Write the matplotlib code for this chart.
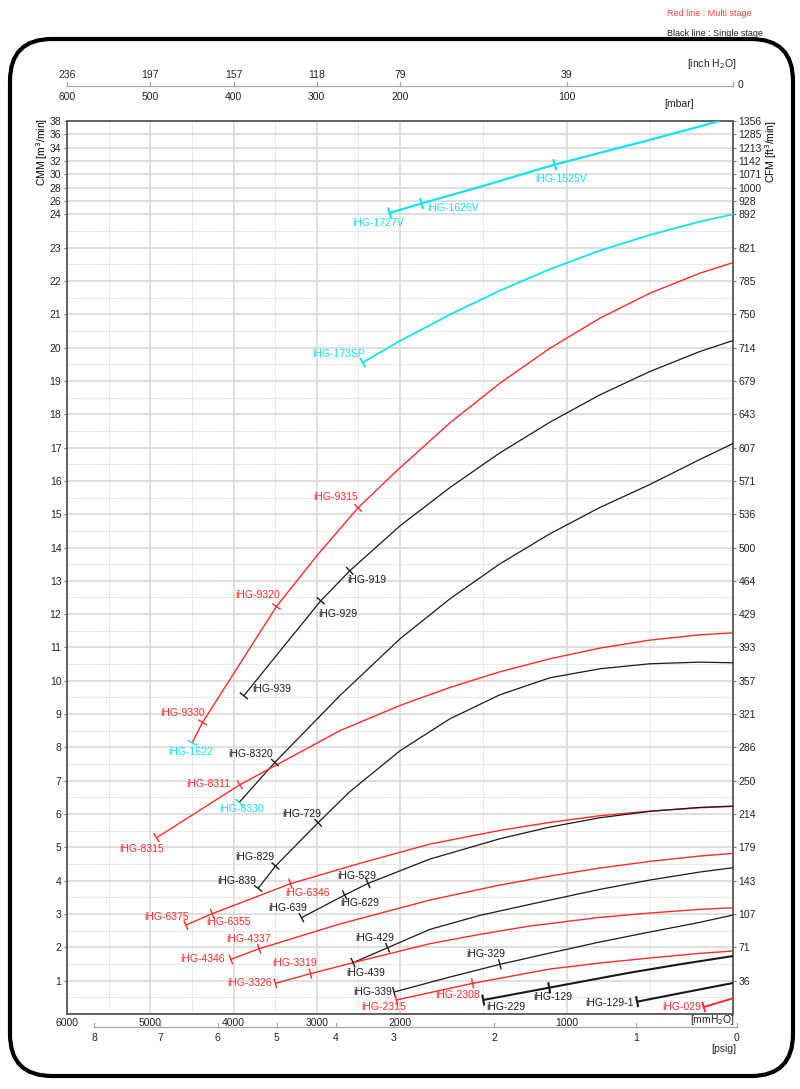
import numpy as np
import matplotlib
matplotlib.use('Agg')
import matplotlib.pyplot as plt
from matplotlib.lines import Line2D
from matplotlib.patches import FancyBboxPatch
from matplotlib.transforms import blended_transform_factory

plt.rcParams['font.family'] = ['Liberation Sans', 'DejaVu Sans']

W, H = 800, 1089
RED = '#ff2b2b'
CYAN = '#14e3ee'
BLK = '#1a1a1a'

# ---- performance curves : x = pressure [mmH2O], y = flow [CMM] ----
v17_mm = [2124, 1870, 1500, 1070, 500, 80]
v17_cmm = [24.2, 25.63, 28.26, 31.46, 35.16, 38.0]

sp_mm = [2448, 2000, 1700, 1400, 1100, 800, 500, 200, 0]
sp_cmm = [19.55, 20.2, 20.99, 21.71, 22.35, 22.91, 23.38, 23.78, 24.0]

m93_mm = [4496, 4372, 3484, 3000, 2504, 2036, 1700, 1400, 1100, 800, 500, 200, 0]
m93_cmm = [8.14, 8.75, 12.23, 13.75, 15.19, 16.31, 17.74, 18.93, 19.98, 20.88, 21.63, 22.23, 22.55]

s9_mm = [3876, 3420, 2952, 2604, 2000, 1700, 1400, 1100, 800, 500, 200, 0]
s9_cmm = [9.55, 10.96, 12.4, 13.3, 14.65, 15.8, 16.84, 17.76, 18.58, 19.28, 19.88, 20.21]

s83_mm = [3932, 3504, 2724, 2000, 1700, 1400, 1100, 800, 500, 200, 0]
s83_cmm = [6.35, 7.55, 9.55, 11.26, 12.46, 13.51, 14.41, 15.2, 15.89, 16.64, 17.12]

m83_mm = [4924, 3924, 3324, 2724, 2000, 1700, 1400, 1100, 800, 500, 200, 0]
m83_cmm = [5.29, 6.88, 7.69, 8.5, 9.26, 9.8, 10.27, 10.66, 10.98, 11.22, 11.38, 11.44]

s7_mm = [3704, 3496, 2984, 2604, 2000, 1700, 1400, 1100, 800, 500, 200, 0]
s7_cmm = [3.77, 4.44, 5.74, 6.67, 7.9, 8.86, 9.58, 10.09, 10.36, 10.51, 10.56, 10.54]

m63_mm = [4572, 4256, 3316, 2484, 1820, 1400, 1100, 800, 500, 200, 0]
m63_cmm = [2.67, 3.01, 3.91, 4.52, 5.1, 5.51, 5.75, 5.95, 6.09, 6.19, 6.23]

s6_mm = [3184, 2664, 2384, 1820, 1400, 1100, 800, 500, 200, 0]
s6_cmm = [2.89, 3.57, 3.92, 4.65, 5.26, 5.61, 5.89, 6.08, 6.2, 6.24]

m43_mm = [4032, 3692, 2724, 1820, 1400, 1100, 800, 500, 200, 0]
m43_cmm = [1.64, 1.96, 2.7, 3.42, 3.87, 4.14, 4.38, 4.58, 4.74, 4.82]

s4_mm = [2564, 2148, 1820, 1520, 1220, 800, 500, 200, 0]
s4_cmm = [1.54, 1.99, 2.54, 2.96, 3.29, 3.74, 4.02, 4.26, 4.39]

m33_mm = [3496, 3076, 2484, 1820, 1520, 1220, 800, 500, 200, 0]
m33_cmm = [0.92, 1.21, 1.59, 2.11, 2.39, 2.64, 2.9, 3.03, 3.14, 3.19]

s3_mm = [2072, 1700, 1400, 1100, 800, 500, 200, 0]
s3_cmm = [0.66, 1.11, 1.49, 1.83, 2.16, 2.46, 2.75, 2.97]

m23_mm = [2044, 1564, 1100, 800, 500, 200, 0]
m23_cmm = [0.42, 0.92, 1.35, 1.53, 1.68, 1.82, 1.89]

s2_mm = [1500, 1104, 620, 320, 0]
s2_cmm = [0.42, 0.79, 1.24, 1.49, 1.74]

s1_mm = [576, 290, 0]
s1_cmm = [0.37, 0.65, 0.93]

m0_mm = [176, 0]
m0_cmm = [0.21, 0.47]

# ---- axis labels ----
cmm_ticks = list(range(1, 25)) + list(range(26, 39, 2))
cfm_labels = ['36', '71', '107', '143', '179', '214', '250', '286', '321', '357', '393', '429',
              '464', '500', '536', '571', '607', '643', '679', '714', '750', '785', '821', '892',
              '928', '1000', '1071', '1142', '1213', '1285', '1356']
mm_ticks = [6000, 5000, 4000, 3000, 2000, 1000]
mbar_labels = ['600', '500', '400', '300', '200', '100']
inch_labels = ['236', '197', '157', '118', '79', '39']
psig_labels = ['8', '7', '6', '5', '4', '3', '2', '1', '0']
psig_pos = [5676, 4878, 4188, 3480, 2772, 2076, 1436, 584, -22]

# curve table: (x, y, colour, width, [(point index, label, mark colour, dx, dy)])
curves = [
    (v17_mm, v17_cmm, CYAN, 1.6, [(0, 'iHG-1727V', CYAN, -12, 10), (1, 'iHG-1626V', CYAN, 31, 5),
                                  (3, 'iHG-1525V', CYAN, 6, 14)]),
    (sp_mm, sp_cmm, CYAN, 1.3, [(0, 'iHG-173SP', CYAN, -24, -9)]),
    (m93_mm, m93_cmm, RED, 1.0, [(0, 'iHG-1622', CYAN, -2, 9), (1, 'iHG-9330', RED, -20, -9),
                                 (2, 'iHG-9320', RED, -19, -11), (4, 'iHG-9315', RED, -22, -11)]),
    (s9_mm, s9_cmm, BLK, 0.9, [(0, 'iHG-939', BLK, 28, -7), (2, 'iHG-929', BLK, 17, 13),
                               (3, 'iHG-919', BLK, 17, 9)]),
    (s83_mm, s83_cmm, BLK, 0.9, [(0, 'iHG-8330', CYAN, 2, 7), (1, 'iHG-8320', BLK, -24, -8)]),
    (m83_mm, m83_cmm, RED, 1.0, [(0, 'iHG-8315', RED, -15, 11), (1, 'iHG-8311', RED, -32, -1)]),
    (s7_mm, s7_cmm, BLK, 0.9, [(0, 'iHG-839', BLK, -21, -7), (1, 'iHG-829', BLK, -21, -9),
                               (2, 'iHG-729', BLK, -16, -9)]),
    (m63_mm, m63_cmm, RED, 1.0, [(0, 'iHG-6375', RED, -19, -8), (1, 'iHG-6355', RED, 16, 8),
                                 (2, 'iHG-6346', RED, 17, 9)]),
    (s6_mm, s6_cmm, BLK, 0.9, [(0, 'iHG-639', BLK, -14, -10), (1, 'iHG-629', BLK, 15, 8),
                               (2, 'iHG-529', BLK, -11, -7)]),
    (m43_mm, m43_cmm, RED, 1.0, [(0, 'iHG-4346', RED, -28, 0), (1, 'iHG-4337', RED, -11, -10)]),
    (s4_mm, s4_cmm, BLK, 0.9, [(0, 'iHG-439', BLK, 13, 10), (1, 'iHG-429', BLK, -13, -10)]),
    (m33_mm, m33_cmm, RED, 1.0, [(0, 'iHG-3326', RED, -26, 0), (1, 'iHG-3319', RED, -16, -11)]),
    (s3_mm, s3_cmm, BLK, 0.9, [(0, 'iHG-339', BLK, -21, 0), (2, 'iHG-329', BLK, -14, -10)]),
    (m23_mm, m23_cmm, RED, 1.0, [(0, 'iHG-2315', RED, -13, 7), (1, 'iHG-2308', RED, -15, 12)]),
    (s2_mm, s2_cmm, BLK, 1.5, [(0, 'iHG-229', BLK, 23, 7), (1, 'iHG-129', BLK, 4, 9)]),
    (s1_mm, s1_cmm, BLK, 1.5, [(0, 'iHG-129-1', BLK, -28, 1)]),
    (m0_mm, m0_cmm, RED, 1.4, [(0, 'iHG-029', RED, -22, 0)]),
]


# piecewise linear scales (2000..0 mmH2O and 24..38 CMM are stretched / squeezed)
def fx(m):
    m = np.asarray(m, float)
    return np.where(m <= 2000, 2 * m, m + 2000)


def fx_inv(u):
    u = np.asarray(u, float)
    return np.where(u <= 4000, u / 2, u - 2000)


def fy(v):
    v = np.asarray(v, float)
    return np.where(v <= 24, v, 24 + (v - 24) * 0.2)


def fy_inv(t):
    t = np.asarray(t, float)
    return np.where(t <= 24, t, 24 + (t - 24) / 0.2)


def figy(py):
    return 1 - py / H


fig = plt.figure(figsize=(W / 100, H / 100), dpi=100)
ax = fig.add_axes([67 / W, 1 - 1014 / H, 666 / W, 893 / H])
ax.set_xscale('function', functions=(fx, fx_inv))
ax.set_yscale('function', functions=(fy, fy_inv))
ax.set_xlim(6000, 0)
ax.set_ylim(0, 38)
ax.autoscale(False)

# grid
for v in range(0, 25):
    ax.axhline(v, color='#d9d9d9', lw=1.2, zorder=0)
for v in np.arange(0.5, 24, 1):
    ax.axhline(v, color='#cfcfcf', lw=0.6, ls=(0, (1, 1)), zorder=0)
for v in range(26, 38, 2):
    ax.axhline(v, color='#d9d9d9', lw=1.2, zorder=0)
for m in range(1000, 6000, 1000):
    ax.axvline(m, color='#d9d9d9', lw=1.2, zorder=0)
for m in range(500, 6000, 1000):
    ax.axvline(m, color='#cfcfcf', lw=0.6, ls=(0, (1, 1)), zorder=0)

for s in ax.spines.values():
    s.set_color('#555555')
    s.set_linewidth(1.3)

ax.set_yticks(cmm_ticks)
ax.set_yticklabels([str(t) for t in cmm_ticks])
ax.set_xticks(mm_ticks)
ax.set_xticklabels([str(t) for t in mm_ticks])
ax.minorticks_off()
ax.tick_params(axis='y', length=2, width=0.8, color='#777777', pad=2, labelsize=7.5, colors='#222222')
ax.tick_params(axis='x', length=0, pad=3, labelsize=7.5, colors='#222222')

ax2 = ax.twinx()
ax2.set_yscale('function', functions=(fy, fy_inv))
ax2.set_ylim(0, 38)
ax2.set_yticks(cmm_ticks)
ax2.set_yticklabels(cfm_labels)
ax2.minorticks_off()
ax2.tick_params(axis='y', length=2, width=0.8, color='#777777', pad=2, labelsize=7.5, colors='#222222')
for s in ax2.spines.values():
    s.set_visible(False)

# curves, marks and labels
for xs, ys, col, lw, marks in curves:
    ax.plot(xs, ys, color=col, lw=lw, zorder=3, solid_capstyle='butt')
    pts = ax.transData.transform(np.column_stack([xs, ys]))
    for i, txt, mcol, dx, dy in marks:
        j0, j1 = max(i - 1, 0), min(i + 1, len(pts) - 1)
        d = pts[j1] - pts[j0]
        d = d / np.hypot(d[0], d[1])
        n = np.array([-d[1], d[0]])
        seg = ax.transData.inverted().transform(np.array([pts[i] - 4.5 * n, pts[i] + 4.5 * n]))
        ax.plot(seg[:, 0], seg[:, 1], color=mcol, lw=max(lw, 1.0), zorder=4)
        ax.annotate(txt, xy=(xs[i], ys[i]), xytext=(dx, -dy), textcoords='offset pixels',
                    ha='center', va='center', color=mcol, fontsize=7.5, annotation_clip=False)

# secondary scales drawn in figure space
tr = blended_transform_factory(ax.transData, fig.transFigure)
gray = '#a8a8a8'
fig.add_artist(Line2D([6000, 0], [figy(86), figy(86)], transform=tr, color=gray, lw=0.9))
for m, ml, il in zip(mm_ticks, mbar_labels, inch_labels):
    fig.add_artist(Line2D([m, m], [figy(86), figy(82)], transform=tr, color=gray, lw=0.9))
    fig.text(m, figy(75), il, transform=tr, ha='center', va='center', fontsize=7.5, color='#222222')
    fig.text(m, figy(97), ml, transform=tr, ha='center', va='center', fontsize=7.5, color='#222222')
fig.add_artist(Line2D([0, 0], [figy(86), figy(82)], transform=tr, color=gray, lw=0.9))
fig.text(741 / W, figy(85), '0', ha='center', va='center', fontsize=7.5, color='#222222')
fig.text(712 / W, figy(64), '[inch H$_2$O]', ha='center', va='center', fontsize=7.5, color='#222222')
fig.text(679 / W, figy(104), '[mbar]', ha='center', va='center', fontsize=7.5, color='#222222')

fig.add_artist(Line2D([psig_pos[0], psig_pos[-1]], [figy(1027), figy(1027)], transform=tr, color=gray, lw=0.9))
for p, lab in zip(psig_pos, psig_labels):
    fig.add_artist(Line2D([p, p], [figy(1027), figy(1023)], transform=tr, color=gray, lw=0.9))
    fig.text(p, figy(1038), lab, transform=tr, ha='center', va='center', fontsize=7.5, color='#222222')
fig.text(724 / W, figy(1049), '[psig]', ha='center', va='center', fontsize=7.5, color='#222222')
fig.text(735 / W, figy(1020), '[mmH$_2$O]', ha='right', va='center', fontsize=7.5, color='#222222')

fig.text(42 / W, figy(152), 'CMM [m$^3$/min]', rotation=90, ha='center', va='center', fontsize=7.5)
fig.text(771 / W, figy(152), 'CFM [ft$^3$/min]', rotation=90, ha='center', va='center', fontsize=7.5)

fig.text(667 / W, figy(13), 'Red line : Multi stage', color='#ff4040', ha='left', va='center', fontsize=6.5)
fig.text(667 / W, figy(33), 'Black line : Single stage', color='#222222', ha='left', va='center', fontsize=6.5)

frame = FancyBboxPatch((0.10, (H - 1076) / 100), 7.83, (1076 - 39) / 100,
                       boxstyle='round,pad=0,rounding_size=0.42', transform=fig.dpi_scale_trans,
                       fill=False, ec='black', lw=3.0)
fig.add_artist(frame)

fig.savefig('out.png', dpi=100)
